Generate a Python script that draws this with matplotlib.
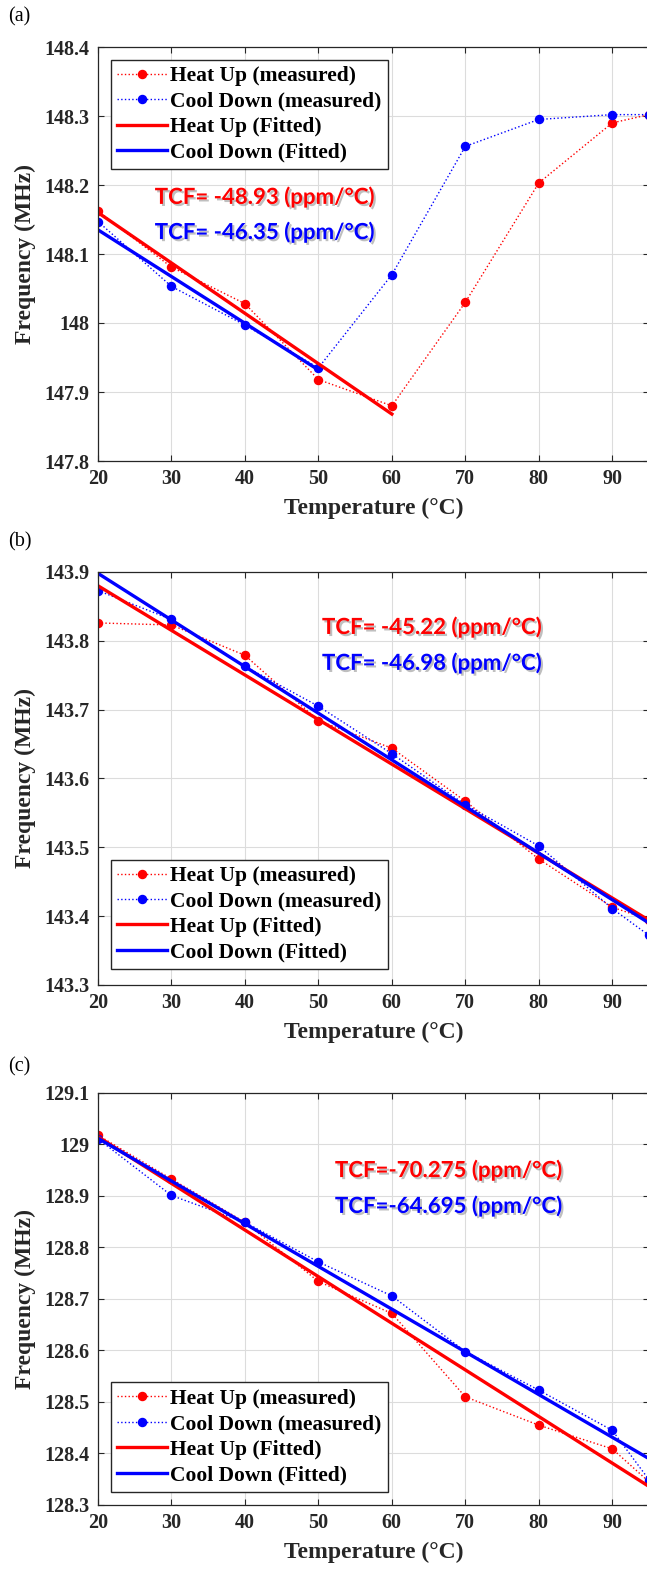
"""Frequency vs temperature for three resonators, heat up / cool down with linear fits."""

import matplotlib

matplotlib.use("Agg")
import matplotlib.pyplot as plt
import matplotlib.patheffects as pe
from matplotlib.ticker import FuncFormatter, MultipleLocator

# measured temperatures (degC)
temps = [20, 30, 40, 50, 60, 70, 80, 90, 95]

# panel (a)
heat_a = [148.162, 148.081, 148.028, 147.918, 147.880, 148.030, 148.203, 148.290, 148.302]
cool_a = [148.147, 148.053, 147.997, 147.935, 148.070, 148.256, 148.295, 148.302, 148.302]
heat_fit_a_x = [20, 60]
heat_fit_a_y = [148.160, 147.868]
cool_fit_a_x = [20, 50]
cool_fit_a_y = [148.135, 147.932]
tcf_a = ["TCF= -48.93 (ppm/°C)", "TCF= -46.35 (ppm/°C)"]

# panel (b)
heat_b = [143.826, 143.823, 143.779, 143.684, 143.644, 143.567, 143.483, 143.413, 143.395]
cool_b = [143.873, 143.831, 143.763, 143.705, 143.636, 143.562, 143.502, 143.411, 143.372]
heat_fit_b_x = [20, 95]
heat_fit_b_y = [143.880, 143.394]
cool_fit_b_x = [20, 95]
cool_fit_b_y = [143.898, 143.390]
tcf_b = ["TCF= -45.22 (ppm/°C)", "TCF= -46.98 (ppm/°C)"]

# panel (c)
heat_c = [129.018, 128.933, 128.849, 128.734, 128.672, 128.510, 128.455, 128.409, 128.345]
cool_c = [129.011, 128.901, 128.849, 128.772, 128.706, 128.598, 128.523, 128.445, 128.349]
heat_fit_c_x = [20, 95]
heat_fit_c_y = [129.015, 128.336]
cool_fit_c_x = [20, 95]
cool_fit_c_y = [129.012, 128.390]
tcf_c = ["TCF=-70.275 (ppm/°C)", "TCF=-64.695 (ppm/°C)"]

RED = "#ff0000"
BLUE = "#0000ff"
SERIF = "Liberation Serif"

W, H = 647, 1570
fig = plt.figure(figsize=(W / 100, H / 100), dpi=100)


def fmt_tick(v, _pos):
    return f"{v:.1f}".rstrip("0").rstrip(".")


# (tag, tag y px, axes top px, axes bottom px, ylim, legend loc, legend y,
#  tcf x, tcf y red, tcf y blue, data...)
panels = [
    ("(a)", 17, 47, 461, (147.8, 148.4), "upper left", 0.969, 0.103, 0.638, 0.553,
     heat_a, cool_a, heat_fit_a_x, heat_fit_a_y, cool_fit_a_x, cool_fit_a_y, tcf_a),
    ("(b)", 542, 572, 985, (143.3, 143.9), "lower left", 0.039, 0.4065, 0.867, 0.780,
     heat_b, cool_b, heat_fit_b_x, heat_fit_b_y, cool_fit_b_x, cool_fit_b_y, tcf_b),
    ("(c)", 1067, 1093, 1505, (128.3, 129.1), "lower left", 0.032, 0.430, 0.813, 0.726,
     heat_c, cool_c, heat_fit_c_x, heat_fit_c_y, cool_fit_c_x, cool_fit_c_y, tcf_c),
]

left_px, right_px = 98, 649

for (tag, tag_y, top, bot, ylim, loc, leg_y, tx, ty_r, ty_b,
     heat, cool, hfx, hfy, cfx, cfy, tcf) in panels:
    ax = fig.add_axes([left_px / W, 1 - bot / H, (right_px - left_px) / W, (bot - top) / H])

    ax.plot(temps, heat, color=RED, linestyle=":", linewidth=1.0, marker="o",
            markersize=5.8, label="Heat Up (measured)")
    ax.plot(temps, cool, color=BLUE, linestyle=":", linewidth=1.0, marker="o",
            markersize=5.8, label="Cool Down (measured)")
    ax.plot(hfx, hfy, color=RED, linewidth=2.4, label="Heat Up (Fitted)")
    ax.plot(cfx, cfy, color=BLUE, linewidth=2.4, label="Cool Down (Fitted)")

    ax.set_xlim(20, 95)
    ax.set_ylim(*ylim)
    ax.xaxis.set_major_locator(MultipleLocator(10))
    ax.yaxis.set_major_locator(MultipleLocator(0.1))
    ax.yaxis.set_major_formatter(FuncFormatter(fmt_tick))
    ax.grid(True, color="#dcdcdc", linewidth=0.8)
    ax.set_axisbelow(True)
    ax.tick_params(direction="in", top=True, right=True, length=4, width=0.8,
                   color="#262626", pad=6)
    for lab in ax.get_xticklabels() + ax.get_yticklabels():
        lab.set_fontfamily(SERIF)
        lab.set_fontweight("bold")
        lab.set_fontsize(14.5)
        lab.set_color("#262626")
    for sp in ax.spines.values():
        sp.set_color("#262626")
        sp.set_linewidth(0.9)

    ax.set_xlabel("Temperature (°C)", family=SERIF, fontweight="bold", fontsize=17,
                  color="#262626", labelpad=6)
    ax.set_ylabel("Frequency (MHz)", family=SERIF, fontweight="bold", fontsize=17,
                  color="#262626", labelpad=6)

    leg = ax.legend(loc=loc, bbox_to_anchor=(0.0236, leg_y), borderaxespad=0,
                    prop={"family": SERIF, "weight": "bold", "size": 15.5},
                    handlelength=2.3, handletextpad=0.15, labelspacing=0.25,
                    borderpad=0.3, fancybox=False, framealpha=1)
    leg.get_frame().set_edgecolor("#262626")
    leg.get_frame().set_linewidth(1.0)

    shadow = [pe.SimplePatchShadow(offset=(1.5, -1.5), shadow_rgbFace="#808080", alpha=0.5),
              pe.Normal()]
    ax.text(tx, ty_r, tcf[0], transform=ax.transAxes, color=RED, family="Lato",
            fontweight="bold", fontsize=16, va="center", path_effects=shadow)
    ax.text(tx, ty_b, tcf[1], transform=ax.transAxes, color=BLUE, family="Lato",
            fontweight="bold", fontsize=16, va="center", path_effects=shadow)

    fig.text(8 / W, 1 - tag_y / H, tag, family=SERIF, fontsize=14.5, va="center")

fig.savefig("out.png", dpi=100)
